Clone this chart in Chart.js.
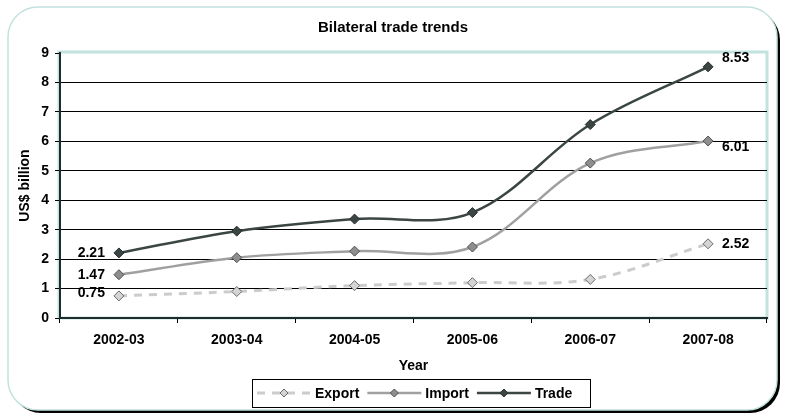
<!DOCTYPE html>
<html><head><meta charset="utf-8">
<script src="https://cdn.jsdelivr.net/npm/chart.js@4.4.0/dist/chart.umd.min.js"></script>
<style>html,body{margin:0;padding:0;background:#fff}#wrap{width:786px;height:416px;position:relative}</style>
</head><body><div id="wrap"><canvas id="c"></canvas></div>
<script>
const categories = ['2002-03','2003-04','2004-05','2005-06','2006-07','2007-08'];
const exportValues = [0.75, 0.90, 1.10, 1.20, 1.31, 2.52];
const importValues = [1.47, 2.05, 2.27, 2.41, 5.26, 6.01];
const tradeValues  = [2.21, 2.95, 3.36, 3.58, 6.57, 8.53];
const yTicks = [0,1,2,3,4,5,6,7,8,9];
const seriesNames = ['Export','Import','Trade'];
const chartTitle = 'Bilateral trade trends';
const yTitle = 'US$ billion';
const xTitle = 'Year';

const FAM = '"Liberation Sans", Arial, sans-serif';
const F14 = {family: FAM, size: 14, weight: 'bold'};
const TEAL = '#c2e2de';

function rr(ctx,x,y,w,h,r){ctx.beginPath();ctx.moveTo(x+r,y);ctx.arcTo(x+w,y,x+w,y+h,r);ctx.arcTo(x+w,y+h,x,y+h,r);ctx.arcTo(x,y+h,x,y,r);ctx.arcTo(x,y,x+w,y,r);ctx.closePath();}
function diamond(ctx,x,y,r,fill,stroke){ctx.beginPath();ctx.moveTo(x,y-r);ctx.lineTo(x+r,y);ctx.lineTo(x,y+r);ctx.lineTo(x-r,y);ctx.closePath();ctx.fillStyle=fill;ctx.fill();ctx.lineWidth=1;ctx.strokeStyle=stroke;ctx.stroke();}

const labelOffsets = [[-3,0],[0,6],[0,-9]];

const deco = {
  id: 'deco',
  beforeDraw(chart){
    const ctx = chart.ctx; ctx.save();
    ctx.fillStyle = '#fff'; ctx.fillRect(0,0,chart.width,chart.height);
    rr(ctx,11,10,769,403,30); ctx.fillStyle='#000'; ctx.fill();
    rr(ctx,8,7,769,403,30); ctx.fillStyle='#fff'; ctx.fill(); ctx.strokeStyle=TEAL; ctx.lineWidth=1.5; ctx.stroke();
    const a = chart.chartArea;
    ctx.strokeStyle = TEAL; ctx.lineWidth = 3;
    ctx.strokeRect(a.left-1, a.top-1, a.right-a.left+1, a.bottom-a.top+1);
    ctx.fillStyle='#000'; ctx.font='bold 15px '+FAM; ctx.textAlign='center'; ctx.textBaseline='middle';
    ctx.fillText(chartTitle, 393, 28);
    ctx.restore();
  },
  afterDatasetsDraw(chart){
    const ctx = chart.ctx; ctx.save();
    ctx.font = 'bold 14px '+FAM; ctx.fillStyle='#000'; ctx.textBaseline='middle';
    chart.data.datasets.forEach((ds,i)=>{
      const pts = chart.getDatasetMeta(i).data;
      const p0 = pts[0], p1 = pts[pts.length-1];
      ctx.textAlign='right';
      ctx.fillText(ds.data[0].toFixed(2), p0.x-14, p0.y+labelOffsets[i][0]);
      ctx.textAlign='left';
      ctx.fillText(ds.data[ds.data.length-1].toFixed(2), p1.x+14, p1.y+labelOffsets[i][1]);
    });
    // legend
    ctx.strokeStyle='#000'; ctx.lineWidth=1;
    ctx.strokeRect(252.5,379.5,338,28);
    let x = 257; const y = 393;
    chart.data.datasets.forEach((ds)=>{
      ctx.save();
      ctx.strokeStyle = ds.borderColor; ctx.lineWidth = ds.borderWidth;
      ctx.setLineDash(ds.borderDash || []);
      ctx.beginPath(); ctx.moveTo(x,y); ctx.lineTo(x+54,y); ctx.stroke();
      ctx.restore();
      diamond(ctx, x+27, y, 4, ds.pointBackgroundColor, ds.pointBorderColor);
      ctx.fillStyle='#000'; ctx.textAlign='left';
      ctx.fillText(ds.label, x+58, y+1);
      x += 58 + ctx.measureText(ds.label).width + 8;
    });
    ctx.restore();
  }
};

new Chart(document.getElementById('c'), {
  type: 'line',
  data: {
    labels: categories,
    datasets: [
      {label: seriesNames[0], data: exportValues, borderColor:'#cccccc', borderWidth:3, borderDash:[8,7],
       pointStyle:'rectRot', pointRadius:5, pointBackgroundColor:'#d4d4d4', pointBorderColor:'#6a6a6a', pointBorderWidth:1, tension:0.35},
      {label: seriesNames[1], data: importValues, borderColor:'#a0a0a0', borderWidth:2.5,
       pointStyle:'rectRot', pointRadius:5, pointBackgroundColor:'#8e8e8e', pointBorderColor:'#505050', pointBorderWidth:1, tension:0.35},
      {label: seriesNames[2], data: tradeValues, borderColor:'#3b4644', borderWidth:2.5,
       pointStyle:'rectRot', pointRadius:5, pointBackgroundColor:'#3b4644', pointBorderColor:'#2a3332', pointBorderWidth:1, tension:0.35}
    ]
  },
  options: {
    responsive: true, maintainAspectRatio: false, animation: false, devicePixelRatio: 1,
    layout: {padding: {left:0, right:19, top:53, bottom:28}},
    plugins: {legend:{display:false}, tooltip:{enabled:false}, title:{display:false}},
    scales: {
      x: {
        offset: true,
        afterFit(s){ s.height = 70; },
        ticks: {font: F14, color:'#000', padding:9, maxRotation:0},
        grid: {offset:true, drawOnChartArea:false, drawTicks:true, tickLength:5, color:'#000'},
        border: {color:'#1e2b2a', width:2},
        title: {display:true, text:xTitle, font:F14, color:'#000', padding:{top:0,bottom:13}}
      },
      y: {
        min: 0, max: 9,
        afterBuildTicks(s){ s.ticks = yTicks.map(v=>({value:v})); },
        afterFit(s){ s.width = 60; },
        ticks: {font: F14, color:'#000', padding:6},
        grid: {color: c => (c.tick && c.tick.value === 9) ? 'rgba(0,0,0,0)' : '#000', tickColor:'#000', tickLength:5, lineWidth:1},
        border: {color:'#1e2b2a', width:2},
        title: {display:true, text:yTitle, font:F14, color:'#000', padding:{top:17,bottom:0}}
      }
    }
  },
  plugins: [deco]
});
</script>
</body></html>
